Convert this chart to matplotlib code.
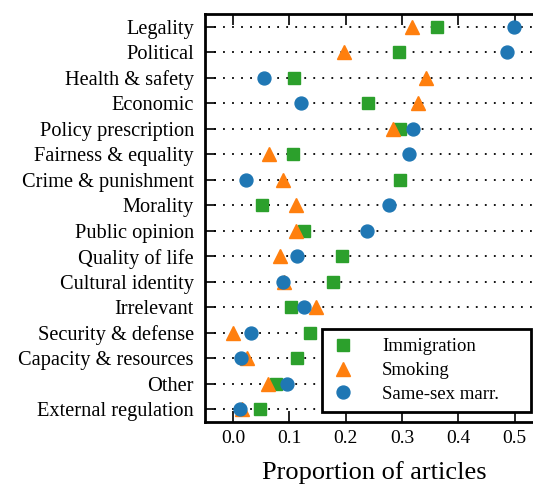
import numpy as np
import matplotlib.pyplot as plt

plt.rcParams['font.family'] = ['Liberation Serif', 'DejaVu Serif']
plt.rcParams['mathtext.fontset'] = 'stix'

frames = ['Legality', 'Political', 'Health & safety', 'Economic',
          'Policy prescription', 'Fairness & equality', 'Crime & punishment',
          'Morality', 'Public opinion', 'Quality of life', 'Cultural identity',
          'Irrelevant', 'Security & defense', 'Capacity & resources', 'Other',
          'External regulation']

immigration = [0.362, 0.295, 0.108, 0.240, 0.296, 0.106, 0.297, 0.051,
               0.125, 0.193, 0.177, 0.102, 0.137, 0.113, 0.076, 0.048]
smoking = [0.317, 0.196, 0.343, 0.328, 0.283, 0.063, 0.088, 0.112,
           0.112, 0.084, 0.090, 0.147, 0.000, 0.025, 0.061, 0.015]
samesex = [0.499, 0.487, 0.055, 0.120, 0.319, 0.313, 0.022, 0.277,
           0.238, 0.114, 0.089, 0.126, 0.031, 0.014, 0.095, 0.012]

fig = plt.figure(figsize=(5.33, 4.86), dpi=100)
ax = fig.add_axes([0.3846, 0.1317, 0.6341, 0.8395])

y = np.arange(len(frames))[::-1]
for yy in y:
    ax.axhline(yy, color='black', linestyle=(0, (1, 4)), linewidth=1.3, zorder=1)

ax.plot(immigration, y, 's', color='#2ca02c', markersize=8.8, label='Immigration', zorder=3)
ax.plot(smoking, y, '^', color='#ff7f0e', markersize=9.5, label='Smoking', zorder=4)
ax.plot(samesex, y, 'o', color='#1f77b4', markersize=9.3, label='Same-sex marr.', zorder=5)

ax.set_yticks(y)
ax.set_yticklabels(frames, fontsize=14.7)
ax.set_ylim(-0.5, len(frames) - 0.5)
ax.set_xlim(-0.05, 0.55)
ax.set_xticks([0.0, 0.1, 0.2, 0.3, 0.4, 0.5])
ax.set_xticklabels(['0.0', '0.1', '0.2', '0.3', '0.4', '0.5'], fontsize=14)
ax.set_xlabel('Proportion of articles', fontsize=19, labelpad=10)
ax.tick_params(direction='in', length=8, width=1.2, top=True, right=False)
ax.tick_params(axis='y', pad=8)
ax.tick_params(axis='x', pad=6)
for s in ax.spines.values():
    s.set_linewidth(2)

leg = ax.legend(loc='lower left', bbox_to_anchor=(0.346, 0.024, 0.618, 0.2),
                mode='expand', fontsize=13.5, frameon=True, fancybox=False,
                borderpad=0.5, labelspacing=0.35, handlelength=1.2,
                handletextpad=1.5, borderaxespad=0)
leg.get_frame().set_edgecolor('black')
leg.get_frame().set_linewidth(2)
leg.get_frame().set_alpha(1)

fig.savefig('out.png', dpi=100)
